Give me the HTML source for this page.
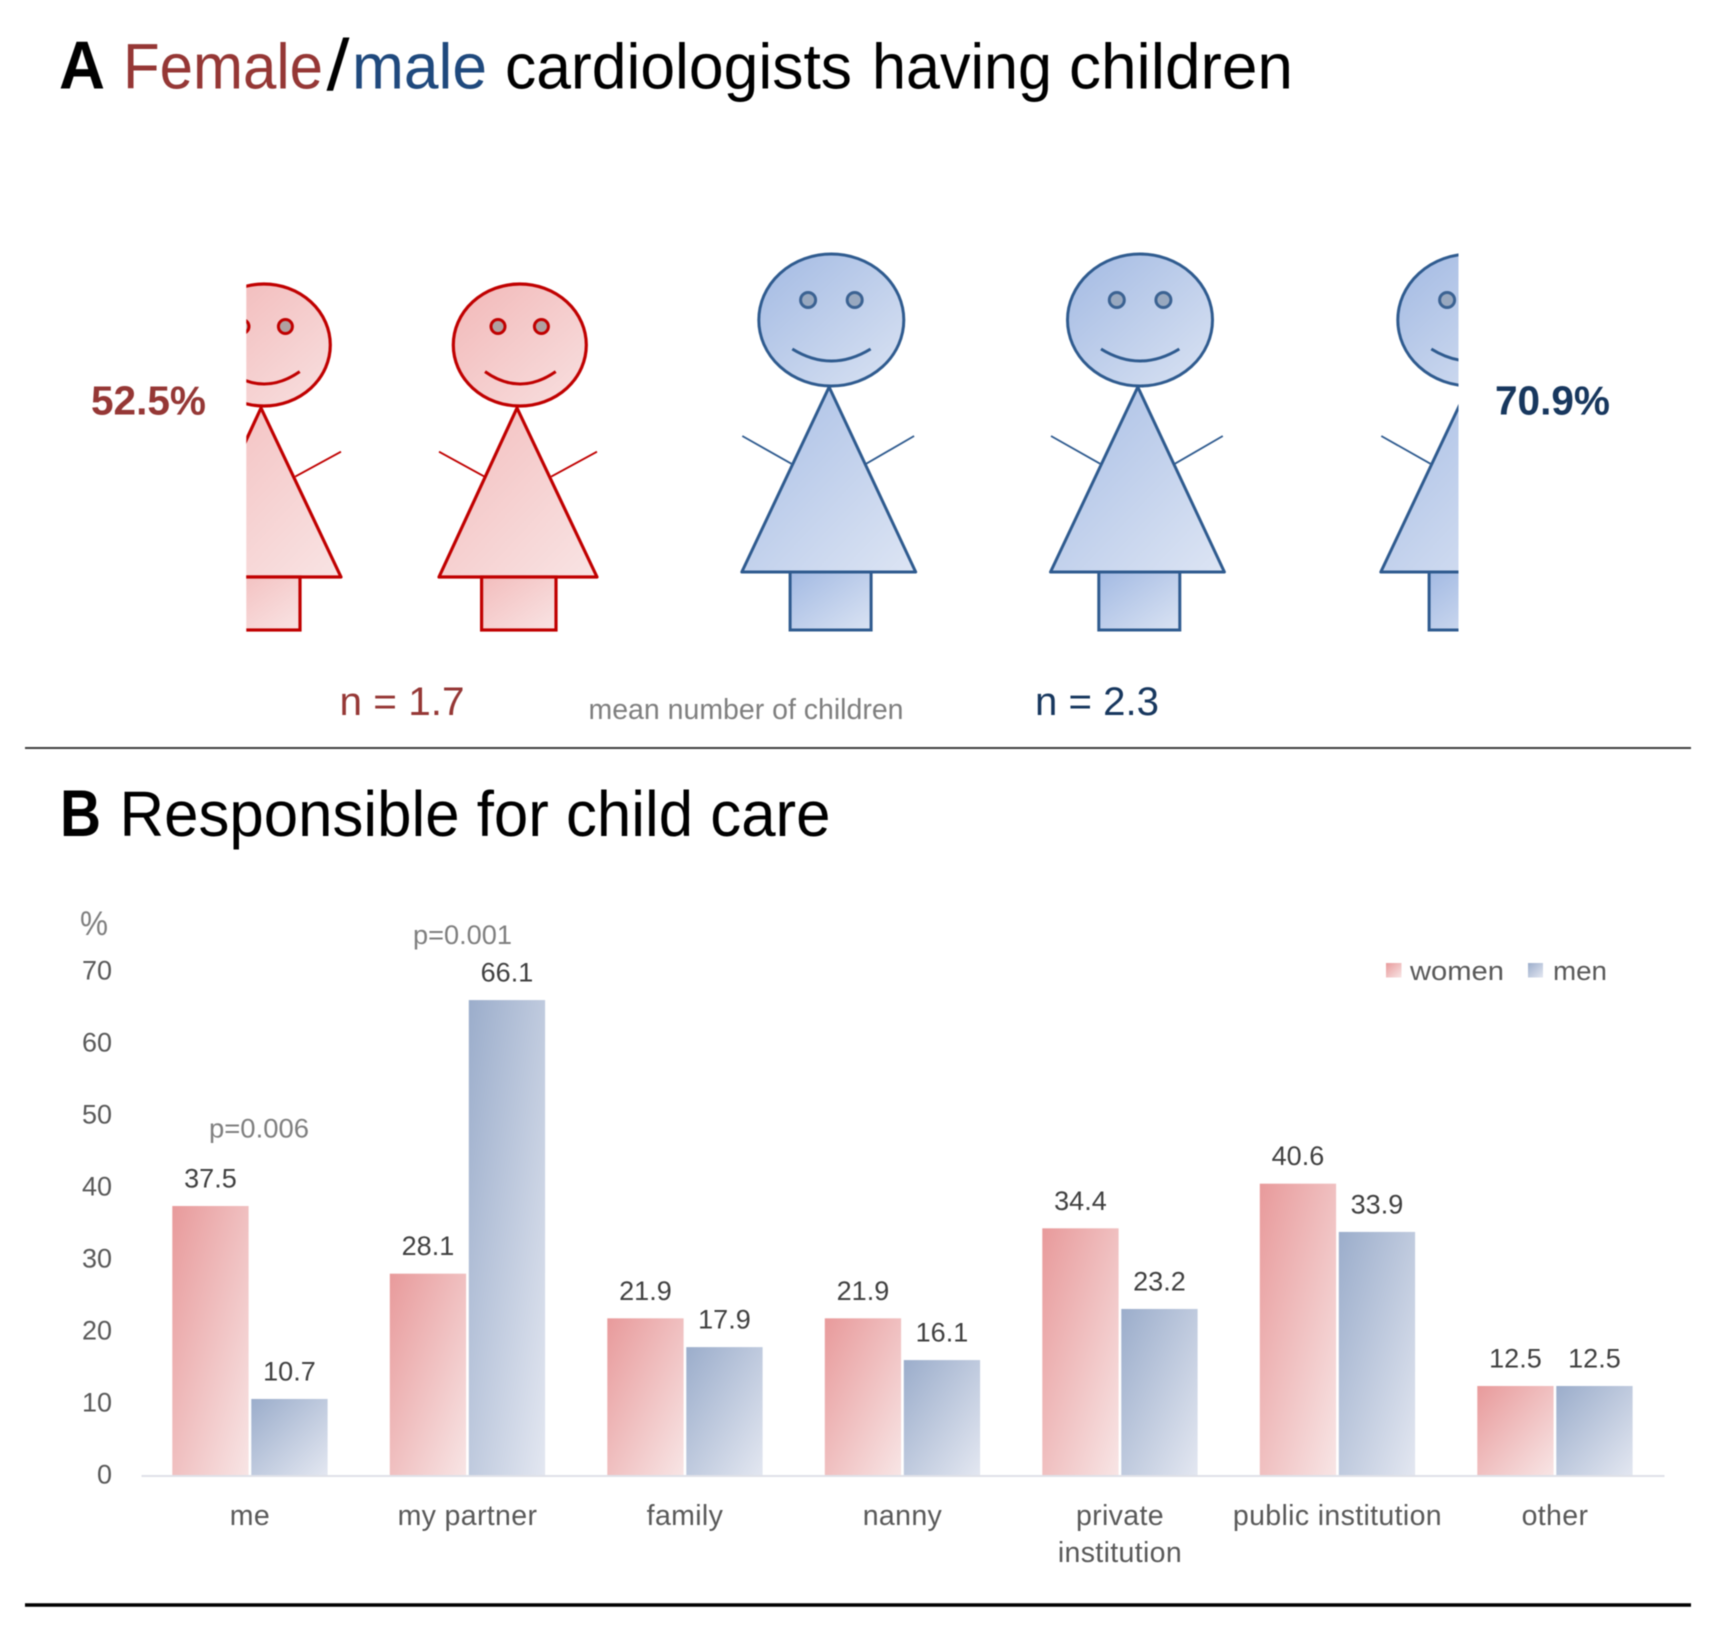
<!DOCTYPE html>
<html lang="en">
<head>
<meta charset="utf-8">
<title>Female/male cardiologists having children</title>
<style>
html,body{margin:0;padding:0;background:#fff;width:1716px;height:1627px;overflow:hidden}
svg{display:block;filter:blur(.45px)}
text{font-family:"Liberation Sans",sans-serif}
</style>
</head>
<body>
<svg id="figure" xmlns="http://www.w3.org/2000/svg" width="1716" height="1627" viewBox="0 0 1716 1627">
<defs>
<linearGradient id="fHead" x1="0" y1="0" x2="1" y2="1"><stop offset="0" stop-color="#f2b8b8"/><stop offset="1" stop-color="#f8e0e0"/></linearGradient>
<linearGradient id="fBody" x1="0" y1="0" x2="1" y2="1"><stop offset="0" stop-color="#f3bdbd"/><stop offset="1" stop-color="#f9e4e4"/></linearGradient>
<linearGradient id="mHead" x1="0" y1="0" x2="1" y2="1"><stop offset="0" stop-color="#a3bae3"/><stop offset="1" stop-color="#dae3f3"/></linearGradient>
<linearGradient id="mBody" x1="0" y1="0" x2="1" y2="1"><stop offset="0" stop-color="#a8bee5"/><stop offset="1" stop-color="#dde5f4"/></linearGradient>
<linearGradient id="wBar" x1="0" y1="0" x2="1" y2="1"><stop offset="0" stop-color="#e89a9b"/><stop offset="1" stop-color="#f8e5e5"/></linearGradient>
<linearGradient id="mBar" x1="0" y1="0" x2="1" y2="1"><stop offset="0" stop-color="#9badcb"/><stop offset="1" stop-color="#e3e7f1"/></linearGradient>
<clipPath id="clipFemale"><rect x="246.3" y="240" width="400" height="420"/></clipPath>
<clipPath id="clipMale"><rect x="700" y="240" width="758.5" height="420"/></clipPath>
<g id="femaleFigure">
  <ellipse cx="519.8" cy="345" rx="66.5" ry="61" fill="url(#fHead)" stroke="#c00000" stroke-width="3.2"/>
  <circle cx="498" cy="326.5" r="7" fill="#b0a0a0" stroke="#c00000" stroke-width="3"/>
  <circle cx="541.4" cy="326.5" r="7" fill="#b0a0a0" stroke="#c00000" stroke-width="3"/>
  <path d="M485 371.6 Q520 396.4 555.7 371.6" fill="none" stroke="#c00000" stroke-width="3"/>
  <path d="M439 451.7 L484.4 476.6 M551.3 476.6 L597 451.7" fill="none" stroke="#c00000" stroke-width="1.8"/>
  <path d="M517 408 L597 577 L439 577 Z" fill="url(#fBody)" stroke="#c00000" stroke-width="3.2" stroke-linejoin="round"/>
  <rect x="481.6" y="577" width="74.4" height="53" fill="url(#fBody)" stroke="#c00000" stroke-width="3.2"/>
</g>
<g id="maleFigure">
  <ellipse cx="1142" cy="320" rx="72.5" ry="66" fill="url(#mHead)" stroke="#2f5b8f" stroke-width="3"/>
  <circle cx="1118.8" cy="300" r="7.5" fill="#98a8bf" stroke="#3b6292" stroke-width="3"/>
  <circle cx="1165.4" cy="300" r="7.5" fill="#98a8bf" stroke="#3b6292" stroke-width="3"/>
  <path d="M1103 349 Q1142 373 1181.3 349" fill="none" stroke="#2f5b8f" stroke-width="3"/>
  <path d="M1053 436 L1102 463.7 M1177 463.7 L1224.8 436" fill="none" stroke="#2f5b8f" stroke-width="1.8"/>
  <path d="M1139.8 387 L1226.4 572 L1052.5 572 Z" fill="url(#mBody)" stroke="#2f5b8f" stroke-width="3" stroke-linejoin="round"/>
  <rect x="1100.8" y="572" width="81" height="58" fill="url(#mHead)" stroke="#2f5b8f" stroke-width="3"/>
</g>
</defs>

<g font-size="64">
  <text x="59" y="88.5" font-size="68" font-weight="bold" textLength="46" lengthAdjust="spacingAndGlyphs" fill="#000">A</text>
  <text x="123" y="88.5" textLength="200" lengthAdjust="spacingAndGlyphs" fill="#953735">Female</text>
  <text x="326.5" y="90" font-size="72" textLength="23" lengthAdjust="spacingAndGlyphs" fill="#000">/</text>
  <text x="352" y="88.5" textLength="135" lengthAdjust="spacingAndGlyphs" fill="#1f497d">male</text>
  <text x="505" y="88.5" textLength="347" lengthAdjust="spacingAndGlyphs" fill="#000">cardiologists</text>
  <text x="872" y="88.5" textLength="180" lengthAdjust="spacingAndGlyphs" fill="#000">having</text>
  <text x="1069" y="88.5" textLength="224" lengthAdjust="spacingAndGlyphs" fill="#000">children</text>
</g>

<g clip-path="url(#clipFemale)">
  <use href="#femaleFigure" transform="translate(-256,0)"/>
  <use href="#femaleFigure"/>
</g>
<g clip-path="url(#clipMale)">
  <use href="#maleFigure" transform="translate(-310.7,0)"/>
  <use href="#maleFigure" transform="translate(-2,0)"/>
  <use href="#maleFigure" transform="translate(328.3,0)"/>
</g>

<text x="91" y="414.5" font-size="41" font-weight="bold" textLength="115" lengthAdjust="spacingAndGlyphs" fill="#953735">52.5%</text>
<text x="1495" y="414.5" font-size="41" font-weight="bold" textLength="115" lengthAdjust="spacingAndGlyphs" fill="#17375e">70.9%</text>
<text x="339.5" y="715" font-size="40" textLength="125" lengthAdjust="spacingAndGlyphs" fill="#953735">n = 1.7</text>
<text x="588.5" y="719" font-size="28.3" textLength="315" lengthAdjust="spacingAndGlyphs" fill="#7f7f7f">mean number of children</text>
<text x="1035" y="715" font-size="40" textLength="124" lengthAdjust="spacingAndGlyphs" fill="#17375e">n = 2.3</text>
<line x1="25" y1="748" x2="1691" y2="748" stroke="#404040" stroke-width="2"/>

<g font-size="64">
  <text x="60" y="836" font-size="66" font-weight="bold" textLength="41" lengthAdjust="spacingAndGlyphs" fill="#000">B</text>
  <text x="119.5" y="836" textLength="711" lengthAdjust="spacingAndGlyphs" fill="#000">Responsible for child care</text>
</g>

<g id="chart"></g>

<text x="80" y="935" font-size="34" textLength="28" lengthAdjust="spacingAndGlyphs" fill="#7f7f7f">%</text>
<text x="413" y="944" font-size="27" textLength="99" lengthAdjust="spacingAndGlyphs" fill="#7f7f7f">p=0.001</text>
<text x="209" y="1137.5" font-size="27" textLength="100" lengthAdjust="spacingAndGlyphs" fill="#7f7f7f">p=0.006</text>

<g>
  <rect x="1386" y="963" width="15.5" height="14.5" fill="url(#wBar)"/>
  <text x="1410" y="980" font-size="27" textLength="94" lengthAdjust="spacingAndGlyphs" fill="#595959">women</text>
  <rect x="1528" y="963" width="15" height="14.5" fill="url(#mBar)"/>
  <text x="1553" y="980" font-size="27" textLength="54" lengthAdjust="spacingAndGlyphs" fill="#595959">men</text>
</g>

<line x1="25" y1="1605" x2="1691" y2="1605" stroke="#000" stroke-width="3.4"/>

<script>
const categories = [["me"], ["my partner"], ["family"], ["nanny"], ["private", "institution"], ["public institution"], ["other"]];
const womenValues = [37.5, 28.1, 21.9, 21.9, 34.4, 40.6, 12.5];
const menValues = [10.7, 66.1, 17.9, 16.1, 23.2, 33.9, 12.5];
const tickLabels = [0, 10, 20, 30, 40, 50, 60, 70];

const SVGNS = "http://www.w3.org/2000/svg";
const chart = document.getElementById("chart");
const BASE_Y = 1476, UNIT = 7.2, FIRST_X = 172.3, STEP = 217.5, BAR_W = 76.3, MEN_OFFSET = 79;
function yScale(v) { return BASE_Y - v * UNIT; }
function groupX(i) { return FIRST_X + i * STEP; }
function make(tag, attrs, content) {
  const el = document.createElementNS(SVGNS, tag);
  for (const k in attrs) el.setAttribute(k, attrs[k]);
  if (content !== undefined) el.textContent = content;
  chart.appendChild(el);
  return el;
}
function drawBar(i, v, offset, fill, series) {
  const x = groupX(i) + offset;
  const top = yScale(v);
  const bar = make("rect", { x: x, y: top, width: BAR_W, height: BASE_Y - 1 - top, fill: fill });
  
  
  const label = make("text", { x: x + BAR_W / 2, y: top - 18.5, "text-anchor": "middle", "font-size": 27, fill: "#404040" }, v.toFixed(1));
  
  
}
tickLabels.forEach(function (t) {
  const tick = make("text", { x: 112, y: yScale(t) + 7.5, "text-anchor": "end", "font-size": 27, fill: "#595959" }, String(t));
  
  
});
const axis = make("line", { x1: 141.5, x2: 1664.5, y1: BASE_Y, y2: BASE_Y, stroke: "#dfe1e8", "stroke-width": 2 });


categories.forEach(function (lines, i) {
  drawBar(i, womenValues[i], 0, "url(#wBar)", "women");
  drawBar(i, menValues[i], MEN_OFFSET, "url(#mBar)", "men");
  lines.forEach(function (line, n) {
    const cat = make("text", { x: groupX(i) + (BAR_W + MEN_OFFSET) / 2, y: 1525 + n * 37, "text-anchor": "middle", "font-size": 28.5, "letter-spacing": 0.35, fill: "#595959" }, line);
    
    
  });
});
</script>
</svg>
</body>
</html>
